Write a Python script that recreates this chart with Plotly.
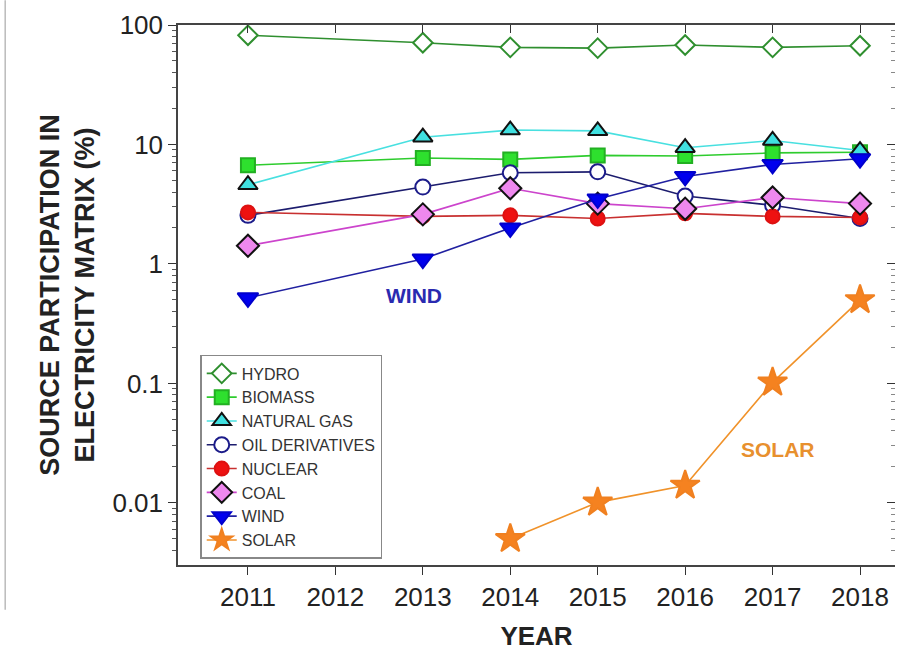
import plotly.graph_objects as go

years = [2011, 2013, 2014, 2015, 2016, 2017, 2018]
hydro = [82, 71, 65, 64, 68, 65, 67]
biomass = [6.7, 7.7, 7.5, 8.1, 8.0, 8.5, 8.6]
natural_gas = [4.6, 11.5, 13.2, 13.0, 9.4, 10.8, 8.9]
oil = [2.55, 4.4, 5.8, 5.9, 3.7, 3.1, 2.4]
nuclear = [2.7, 2.5, 2.55, 2.4, 2.65, 2.5, 2.45]
coal = [1.42, 2.6, 4.3, 3.2, 2.9, 3.6, 3.2]
wind = [0.52, 1.1, 2.0, 3.5, 5.4, 6.8, 7.6]
solar_years = [2014, 2015, 2016, 2017, 2018]
solar = [0.005, 0.0101, 0.014, 0.102, 0.5]
xtick_vals = [2011, 2012, 2013, 2014, 2015, 2016, 2017, 2018]
ytick_vals = [0.01, 0.1, 1, 10, 100]
ytick_text = ["0.01", "0.1", "1", "10", "100"]

series = [
    ("HYDRO", years, hydro, "#2f8f2f", "diamond", "white", "#2f8f2f", 15),
    ("BIOMASS", years, biomass, "#2ecc2e", "square", "#2ee02e", "#22b022", 14),
    ("NATURAL GAS", years, natural_gas, "#48e0e0", "triangle-up", "#40e0e0", "#111111", 17),
    ("OIL DERIVATIVES", years, oil, "#1c1c6e", "circle", "white", "#1c1c8a", 15),
    ("NUCLEAR", years, nuclear, "#c83030", "circle", "#ee1111", "#dd1111", 14),
    ("COAL", years, coal, "#cc44cc", "diamond", "#ee88ee", "#111111", 17),
    ("WIND", years, wind, "#2020a0", "triangle-down", "#0000ee", "#0000cc", 18),
    ("SOLAR", solar_years, solar, "#f0922a", "star", "#f58220", "#f08020", 22),
]

FONT = "Arial, Liberation Sans, sans-serif"

fig = go.Figure()
for name, xs, ys, lc, sym, fc, oc, sz in series:
    fig.add_trace(go.Scatter(
        x=xs, y=ys, name=name, mode="lines+markers",
        line=dict(color=lc, width=1.6),
        marker=dict(symbol=sym, size=sz, color=fc, line=dict(color=oc, width=2)),
    ))

# invisible trace to carry mirror axes (top/right with inside ticks)
fig.add_trace(go.Scatter(x=[2011], y=[1], xaxis="x2", yaxis="y2",
                         mode="markers", marker=dict(opacity=0),
                         showlegend=False, hoverinfo="skip"))

xr = [2010.2, 2018.4]
yr = [-2.52, 2.0]
tickfont = dict(family=FONT, size=26, color="#222")

fig.update_layout(
    width=899, height=652,
    margin=dict(l=178, r=4, t=25, b=87),
    paper_bgcolor="white", plot_bgcolor="white",
    showlegend=True,
    legend=dict(x=0.031, y=0.389, xanchor="left", yanchor="top",
                bgcolor="white", bordercolor="#888", borderwidth=1.5,
                font=dict(family=FONT, size=16, color="#333"),
                tracegroupgap=0, itemwidth=30),
    xaxis=dict(range=xr, tickvals=xtick_vals, ticks="outside", ticklen=8,
               tickcolor="#333", showline=True, linecolor="#444", linewidth=1.5,
               showgrid=False, zeroline=False, tickfont=tickfont, automargin=False,
               title=dict(text="<b>YEAR</b>", font=dict(family=FONT, size=26, color="#222"), standoff=16)),
    yaxis=dict(type="log", range=yr, tickvals=ytick_vals, ticktext=ytick_text,
               ticks="outside", ticklen=8, tickcolor="#333",
               minor=dict(ticks="outside", ticklen=4, tickcolor="#555", dtick="D1", showgrid=False),
               showline=True, linecolor="#444", linewidth=1.5,
               showgrid=False, zeroline=False, tickfont=tickfont, automargin=False,
               title=dict(text="<b>SOURCE PARTICIPATION IN<br>ELECTRICITY MATRIX (%)</b>",
                          font=dict(family=FONT, size=27, color="#222"), standoff=10)),
    xaxis2=dict(range=xr, overlaying="x", side="top", tickvals=xtick_vals,
                ticks="inside", ticklen=8, tickcolor="#333", showticklabels=False,
                showline=True, linecolor="#444", linewidth=1.5, showgrid=False,
                zeroline=False, automargin=False),
    yaxis2=dict(type="log", range=yr, overlaying="y", side="right",
                tickvals=ytick_vals, ticks="inside", ticklen=8, tickcolor="#333",
                minor=dict(ticks="inside", ticklen=4, tickcolor="#888", dtick="D1"),
                showticklabels=False, showline=False, showgrid=False, zeroline=False,
                automargin=False),
    annotations=[
        dict(x=2012.9, y=-0.26, xref="x", yref="y", text="<b>WIND</b>", showarrow=False,
             font=dict(family=FONT, size=21, color="#2a2ab0")),
        dict(x=2017.06, y=-1.556, xref="x", yref="y", text="<b>SOLAR</b>", showarrow=False,
             font=dict(family=FONT, size=21, color="#e8902e")),
    ],
    shapes=[dict(type="line", xref="paper", yref="paper", x0=-0.241, x1=-0.241,
                 y0=-0.083, y1=1.046, line=dict(color="#bbb", width=1.5))],
)

fig.write_html("out.html", config={"displayModeBar": False},
               post_script="document.body.style.margin='0';document.body.style.overflow='hidden';")
